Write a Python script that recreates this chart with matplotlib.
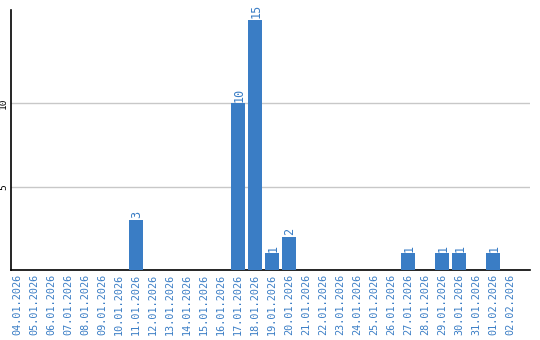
import matplotlib
matplotlib.use("Agg")
import matplotlib.pyplot as plt

dates = ["04.01.2026", "05.01.2026", "06.01.2026", "07.01.2026", "08.01.2026",
         "09.01.2026", "10.01.2026", "11.01.2026", "12.01.2026", "13.01.2026",
         "14.01.2026", "15.01.2026", "16.01.2026", "17.01.2026", "18.01.2026",
         "19.01.2026", "20.01.2026", "21.01.2026", "22.01.2026", "23.01.2026",
         "24.01.2026", "25.01.2026", "26.01.2026", "27.01.2026", "28.01.2026",
         "29.01.2026", "30.01.2026", "31.01.2026", "01.02.2026", "02.02.2026"]
values = [0, 0, 0, 0, 0, 0, 0, 3, 0, 0, 0, 0, 0, 10, 15,
          1, 2, 0, 0, 0, 0, 0, 0, 1, 0, 1, 1, 0, 1, 0]
yticks = [5, 10]

plt.rcParams["font.family"] = ["DejaVu Sans Mono"]
blue = "#3a7dc5"
fig = plt.figure(figsize=(5.4, 3.4), dpi=100)
ax = fig.add_axes([11/540, 70/340, 519/540, 260/340])
x = list(range(len(dates)))
ax.bar(x, values, width=0.82, color=blue, zorder=3)
for xi, v in zip(x, values):
    if v > 0:
        ax.text(xi + 0.05, v + 0.1, str(v), rotation=90, ha="center", va="bottom",
                color=blue, fontsize=8.5)
ax.set_xlim(-0.35, 30.18)
ax.set_ylim(0, 15.6)
ax.set_xticks(x)
ax.set_xticklabels(dates, rotation=90, color=blue, fontsize=7.3)
ax.set_yticks(yticks)
ax.set_yticklabels([str(t) for t in yticks], rotation=90, fontsize=6.8, va="center")
ax.tick_params(axis="both", length=0, pad=3)
ax.tick_params(axis="y", pad=2)
ax.grid(axis="y", color="#c8c8c8", linewidth=1, zorder=0)
for s in ["top", "right"]:
    ax.spines[s].set_visible(False)
for s in ["left", "bottom"]:
    ax.spines[s].set_color("black")
    ax.spines[s].set_linewidth(1.2)
fig.savefig("out.png", dpi=100)
